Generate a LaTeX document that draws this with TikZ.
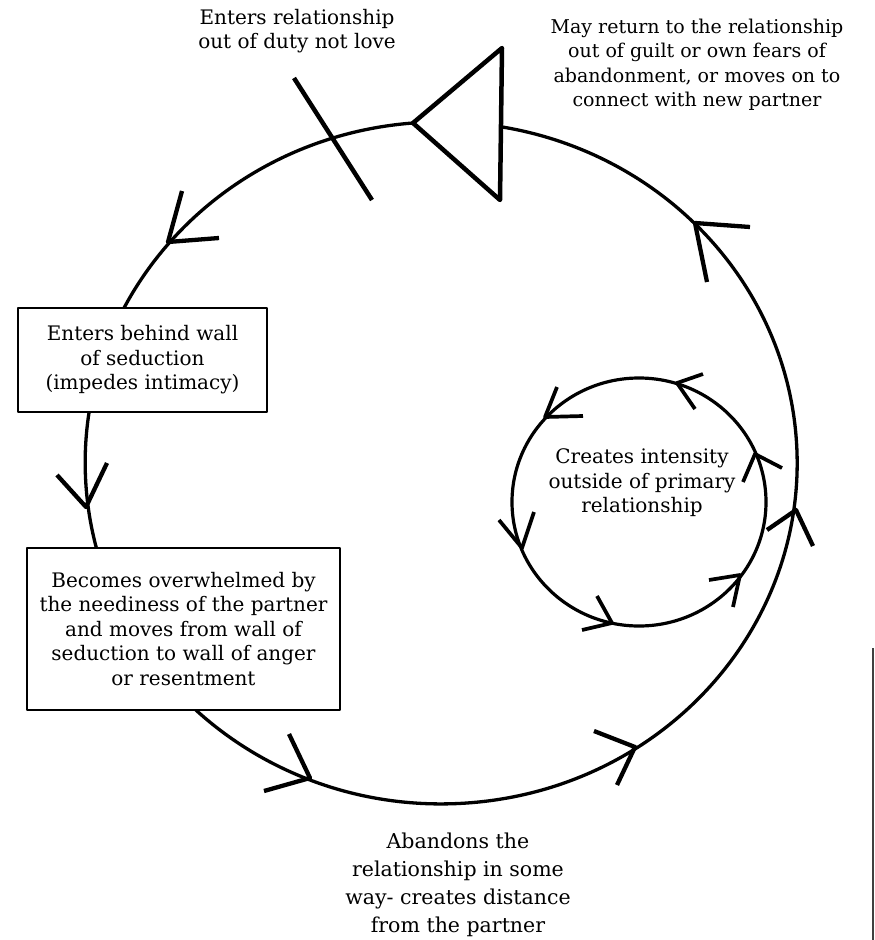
\documentclass[tikz,border=0pt]{standalone}
\usepackage{fontspec}
\setmainfont{DejaVu Serif}
\usetikzlibrary{shapes.geometric}
\begin{document}
\begin{tikzpicture}[x=1pt,y=-1pt,line join=round,
  curve/.style={line width=3.3pt},
  vtip/.style={line width=4.3pt},
  itip/.style={line width=3.7pt},
  shapeln/.style={line width=4.5pt},
  box/.style={draw,line width=1.3pt,fill=white,align=center,inner sep=0pt,
    font=\fontsize{20}{24.5}\selectfont},
  lbl/.style={align=center,inner sep=0pt,font=\fontsize{20}{24.5}\selectfont}]
\useasboundingbox (0,0) rectangle (875,940);

% triangle and cross
\coordinate (tA) at (413,123);
\coordinate (tB) at (502,48);
\coordinate (tC) at (500,200);
\coordinate (x1) at (294,78);
\coordinate (x2) at (372,200);

% outer cycle (elliptical, from triangle apex round to its back side)
\draw[curve] (tA) arc[start angle=265.46, end angle=-80.2, x radius=356, y radius=341];

\draw[shapeln] (tA) -- (tB) -- (tC) -- cycle;
\draw[shapeln] (x1) -- (x2);

% outer arrow marks
\draw[vtip] (182,191) -- (168,242) -- (219,238);
\draw[vtip] (57,475) -- (86,507) -- (107,463);
\draw[vtip] (289,734) -- (310,778) -- (264,791);
\draw[vtip] (594,731) -- (635,747) -- (617,785);
\draw[vtip] (767,530) -- (796,510) -- (813,546);
\draw[vtip] (750,227) -- (695,223) -- (707,282);

% inner cycle
\node[draw,ellipse,line width=3.2pt,minimum width=254pt,minimum height=248pt,inner sep=0pt] (inner) at (639,502) {};
\draw[itip] (703,374) -- (677,383) -- (695,409);
\draw[itip] (557,387) -- (545,417) -- (583,416);
\draw[itip] (499,520) -- (522,548) -- (534,512);
\draw[itip] (582,630) -- (612,623) -- (597,596);
\draw[itip] (709,580) -- (740,575) -- (733,607);
\draw[itip] (743,482) -- (755,454) -- (782,468);
\node[lbl] (innerlbl) at (642,483) {Creates intensity\\outside of primary\\relationship};

% boxes
\node[box,minimum width=249pt,minimum height=104pt] (b1) at (142.5,360)
  {Enters behind wall\\of seduction\\(impedes intimacy)};
\node[box,minimum width=313pt,minimum height=162pt] (b2) at (183.5,629)
  {Becomes overwhelmed by\\the neediness of the partner\\and moves from wall of\\seduction to wall of anger\\or resentment};

% labels
\node[lbl] (top) at (297,31) {Enters relationship\\out of duty not love};
\node[lbl,font=\fontsize{19}{24.5}\selectfont] (tr) at (697,65) {May return to the relationship\\out of guilt or own fears of\\abandonment, or moves on to\\connect with new partner};
\node[lbl,font=\fontsize{20.5}{28}\selectfont] (bot) at (458,885) {Abandons the\\relationship in some\\way- creates distance\\from the partner};

% scan edge
\coordinate (e1) at (873,648);
\coordinate (e2) at (873,940);
\draw[line width=1.6pt,black!75] (e1) -- (e2);
\end{tikzpicture}
\end{document}
